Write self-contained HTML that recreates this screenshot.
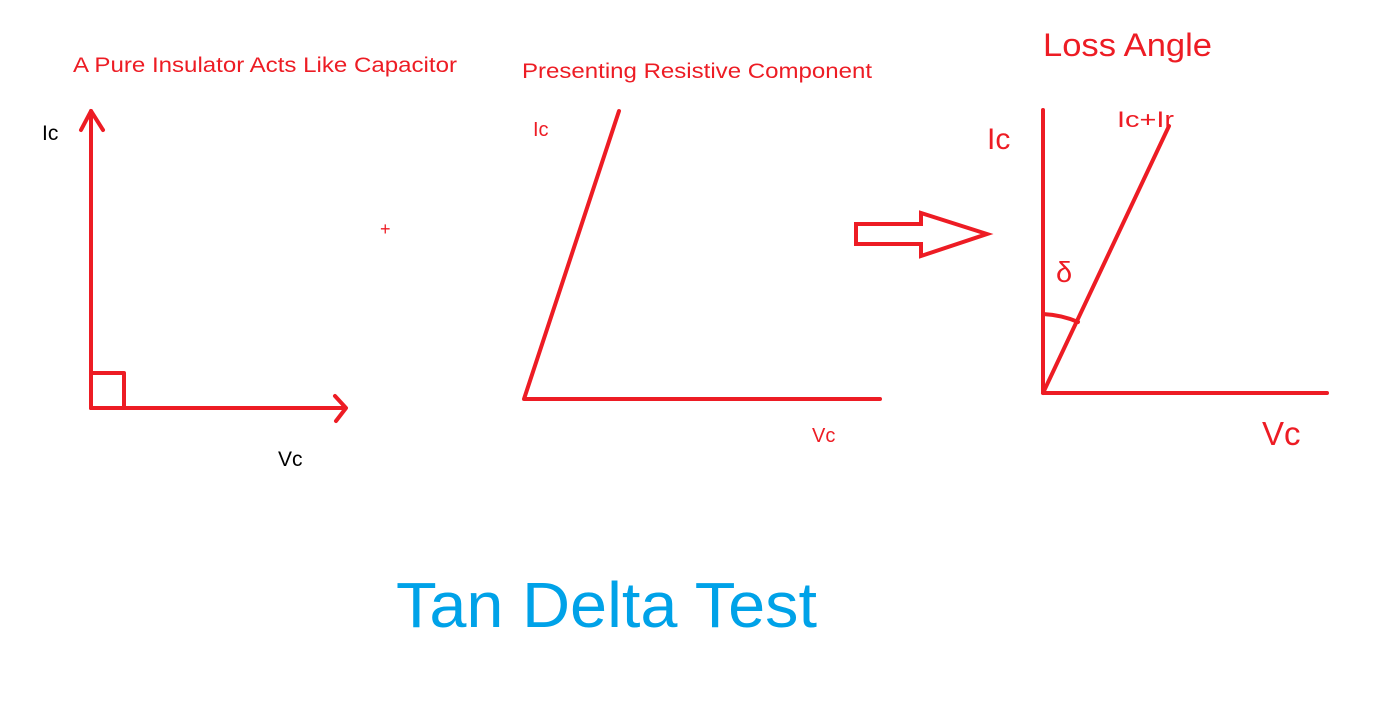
<!DOCTYPE html>
<html><head><meta charset="utf-8"><style>
html,body{margin:0;padding:0;background:#fff;}
svg{display:block;}
text{font-family:"Liberation Sans",sans-serif;}
</style></head><body>
<svg width="1380" height="704" viewBox="0 0 1380 704" xmlns="http://www.w3.org/2000/svg">
<g stroke="#ed1c24" stroke-width="4" fill="none" stroke-linecap="round" stroke-linejoin="round">
  <line x1="91" y1="111" x2="91" y2="408"/>
  <polyline points="81,130 91,111 103,130"/>
  <line x1="91" y1="408" x2="345" y2="408"/>
  <polyline points="335,396 346,408 336,421"/>
  <rect x="91" y="373" width="33" height="35" stroke-linecap="butt"/>
  <polyline points="619,111 524,399 880,399"/>
  <polygon points="856,224 921,224 921,213 987,234 921,256 921,244 856,244" stroke-linejoin="miter"/>
  <polyline points="1043,110 1043,393 1327,393"/>
  <line x1="1043" y1="393" x2="1169" y2="126"/>
  <path d="M1043,314 Q1062,315 1078,322"/>
</g>
<g fill="#ed1c24">
  <text x="73" y="72" font-size="21" textLength="384" lengthAdjust="spacingAndGlyphs">A Pure Insulator Acts Like Capacitor</text>
  <text x="522" y="78" font-size="21" textLength="350" lengthAdjust="spacingAndGlyphs">Presenting Resistive Component</text>
  <text x="380" y="235" font-size="18">+</text>
  <text x="533" y="136" font-size="20">Ic</text>
  <text x="812" y="442" font-size="20">Vc</text>
  <text x="1043" y="56" font-size="32" textLength="169" lengthAdjust="spacingAndGlyphs">Loss Angle</text>
  <text x="987" y="149" font-size="30">Ic</text>
  <text x="1117" y="127" font-size="22" textLength="57" lengthAdjust="spacingAndGlyphs">Ic+Ir</text>
  <text x="1056" y="282" font-size="29">δ</text>
  <text x="1262" y="445" font-size="33">Vc</text>
</g>
<g fill="#000">
  <text x="42" y="140" font-size="21">Ic</text>
  <text x="278" y="466" font-size="21">Vc</text>
</g>
<text x="396" y="627" font-size="64" fill="#00a2e8" textLength="421" lengthAdjust="spacingAndGlyphs">Tan Delta Test</text>
</svg>
</body></html>
